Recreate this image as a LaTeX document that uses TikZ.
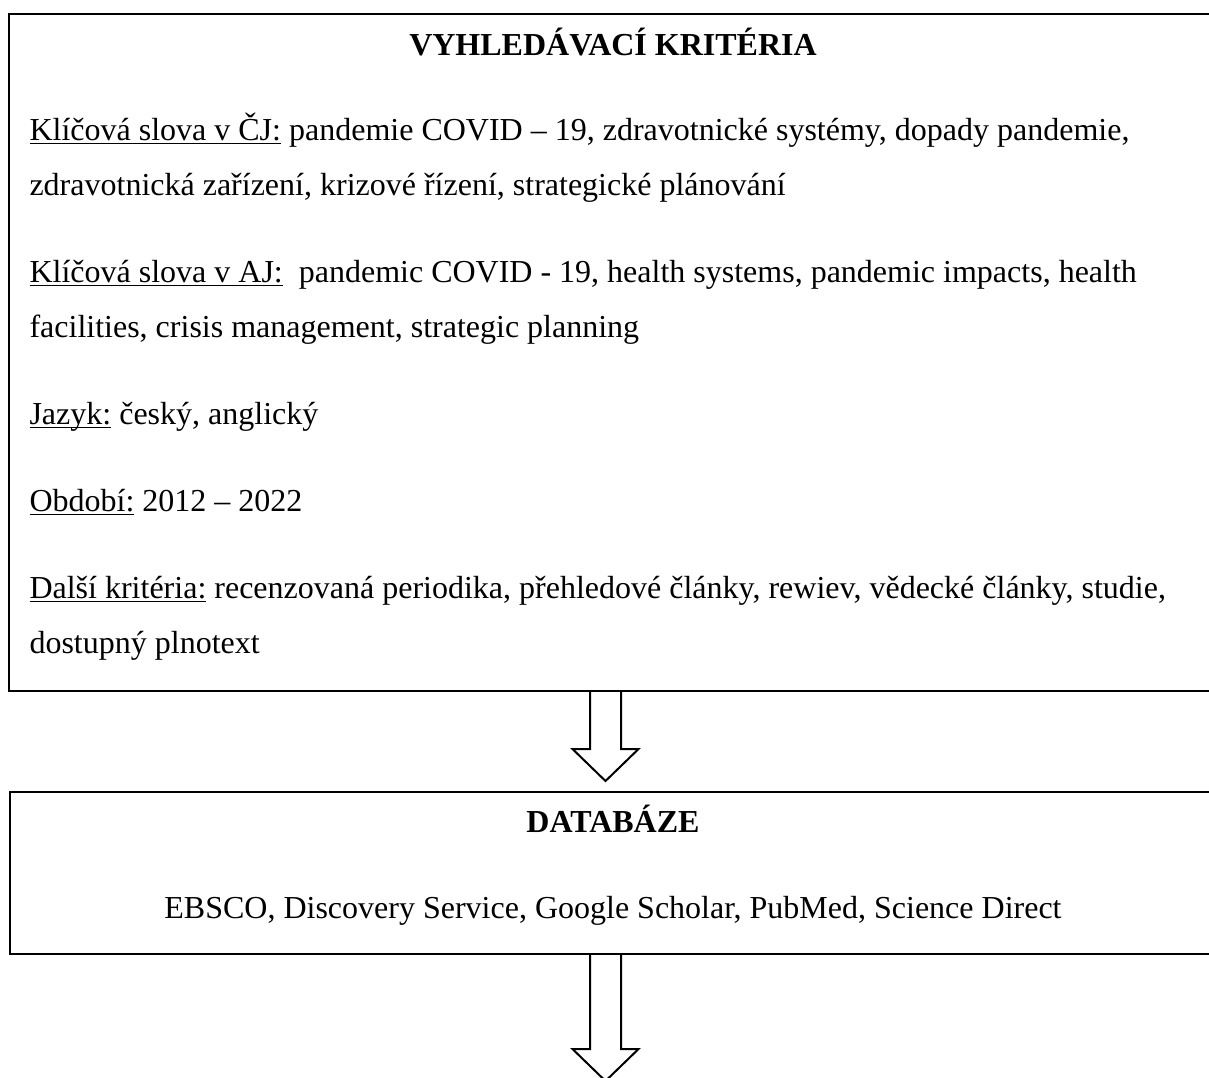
\documentclass[tikz,border=0pt]{standalone}
\usepackage{fontspec}
\setmainfont{Liberation Serif}
\usetikzlibrary{calc}
\newcommand{\ulabel}[1]{\setbox0\hbox{#1}\rlap{\rule[-1.6pt]{\wd0}{0.55pt}}\box0\relax}
\newcommand{\blockarrow}[2]{%
  \draw[blockline] ($(#1)+(-15.5,0)$) -- ($(#2)+(-15.5,-32)$) -- ($(#2)+(-33,-32)$) -- (#2)
    -- ($(#2)+(33,-32)$) -- ($(#2)+(15.5,-32)$) -- ($(#1)+(15.5,0)$);}
\tikzset{
  frame/.style={draw, line width=0.75pt, inner sep=0pt, anchor=north west},
  txtline/.style={anchor=base west, inner sep=0pt, font=\fontsize{12}{14}\selectfont},
  heading/.style={anchor=base, inner sep=0pt, font=\fontsize{12}{14}\selectfont\bfseries},
  blockline/.style={line width=0.75pt, line join=miter}
}
\begin{document}
\begin{tikzpicture}[x=0.375pt, y=-0.375pt]
  \useasboundingbox (0,0) rectangle (1209,1077);
  % boxes
  \node[frame, minimum width=453.4pt, minimum height=254pt] (crit) at (8,12.7) {};
  \node[frame, minimum width=453pt, minimum height=60.75pt] (db) at (9,791) {};
  % search criteria
  \node[heading] (crittitle) at (613,55) {VYHLEDÁVACÍ KRITÉRIA};
  \node[txtline] (cz1) at (29,140) {\ulabel{Klíčová slova v ČJ:} pandemie COVID – 19, zdravotnické systémy, dopady pandemie,};
  \node[txtline] (cz2) at (29,195) {zdravotnická zařízení, krizové řízení, strategické plánování};
  \node[txtline] (en1) at (29,282) {\ulabel{Klíčová slova v AJ:}\ \ pandemic COVID - 19, health systems, pandemic impacts, health};
  \node[txtline] (en2) at (29,337) {facilities, crisis management, strategic planning};
  \node[txtline] (lang) at (29,424) {\ulabel{Jazyk:} český, anglický};
  \node[txtline] (period) at (29,511) {\ulabel{Období:} 2012 – 2022};
  \node[txtline] (other1) at (29,598) {\ulabel{Další kritéria:} recenzovaná periodika, přehledové články, rewiev, vědecké články, studie,};
  \node[txtline] (other2) at (29,653) {dostupný plnotext};
  % databases
  \node[heading] (dbtitle) at (613,832) {DATABÁZE};
  \node[heading, font=\fontsize{12}{14}\selectfont] (dblist) at (613,918) {EBSCO, Discovery Service, Google Scholar, PubMed, Science Direct};
  % arrows
  \coordinate (ax) at (605.5,0);
  \coordinate (s1) at (crit.south -| ax);
  \coordinate (t1) at ($(db.north -| ax)+(0,-10)$);
  \coordinate (s2) at (db.south -| ax);
  \coordinate (t2) at (605.5,1081);
  \blockarrow{s1}{t1}
  \blockarrow{s2}{t2}
\end{tikzpicture}
\end{document}
